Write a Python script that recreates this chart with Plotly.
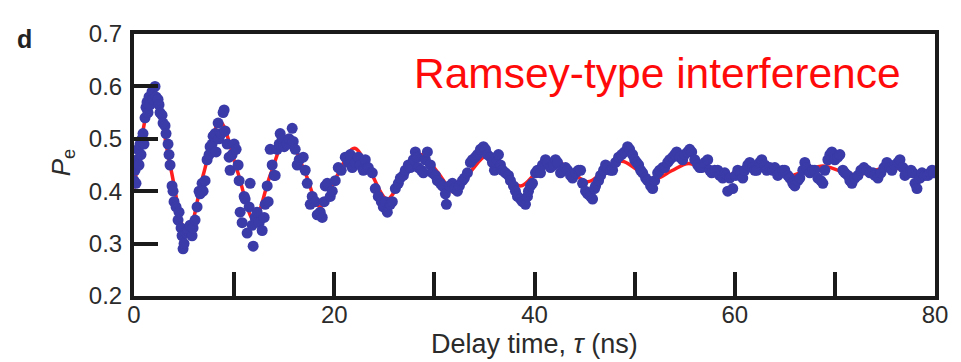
import plotly.graph_objects as go

# Blue data points: delay time (ns), excited-state probability
tau = [0.0, 0.1, 0.2, 0.3, 0.4, 0.5, 0.6, 0.7, 0.8, 0.9, 1.0, 1.1, 1.2, 1.3, 1.4, 1.5, 1.6, 1.8, 1.9, 2.1,
       2.2, 2.4, 2.5, 2.6, 2.8, 2.9, 3.1, 3.2, 3.4, 3.5, 3.6, 3.8, 3.9, 4.0, 4.2, 4.4, 4.5, 4.7, 4.8, 4.9,
       5.0, 5.2, 5.4, 5.6, 5.8, 5.9, 6.1, 6.3, 6.5, 6.6, 6.8, 6.9, 7.1, 7.3, 7.5, 7.6, 7.8, 7.9, 8.1, 8.2,
       8.4, 8.5, 8.7, 8.9, 9.0, 9.1, 9.3, 9.5, 9.6, 9.8, 10.0, 10.2, 10.4, 10.5, 10.6, 10.8, 11.0, 11.1, 11.3, 11.5,
       11.6, 11.8, 11.9, 12.1, 12.3, 12.5, 12.8, 13.0, 13.1, 13.3, 13.4, 13.6, 13.8, 14.0, 14.1, 14.3, 14.5, 14.6, 14.8, 15.0,
       15.3, 15.5, 15.8, 15.9, 16.1, 16.3, 16.5, 16.9, 17.1, 17.3, 17.6, 17.8, 18.1, 18.3, 18.6, 18.8, 19.0, 19.1, 19.3, 19.6,
       19.8, 20.1, 20.4, 20.7, 21.1, 21.4, 21.6, 21.8, 22.1, 22.4, 22.6, 22.9, 23.1, 23.4, 23.8, 24.1, 24.4, 24.7, 24.9, 25.1,
       25.3, 25.6, 25.8, 26.1, 26.4, 26.6, 26.9, 27.1, 27.4, 27.6, 27.9, 28.1, 28.3, 28.4, 28.7, 28.9, 29.1, 29.3, 29.6, 29.8,
       30.1, 30.3, 30.6, 30.8, 31.1, 31.2, 31.5, 31.8, 32.0, 32.3, 32.5, 32.8, 33.0, 33.3, 33.6, 33.8, 34.1, 34.3, 34.6, 34.9,
       35.1, 35.3, 35.6, 35.8, 36.0, 36.2, 36.4, 36.6, 36.8, 37.1, 37.4, 37.6, 37.9, 38.1, 38.3, 38.6, 38.8, 39.1, 39.3, 39.4,
       39.6, 39.8, 40.1, 40.3, 40.6, 40.8, 41.1, 41.3, 41.6, 41.9, 42.1, 42.3, 42.6, 42.8, 43.1, 43.3, 43.6, 43.8, 44.1, 44.4,
       44.6, 44.8, 45.1, 45.3, 45.6, 45.8, 46.0, 46.1, 46.4, 46.6, 46.9, 47.1, 47.3, 47.6, 47.8, 48.1, 48.4, 48.7, 49.0, 49.3,
       49.5, 49.8, 50.0, 50.2, 50.4, 50.6, 50.8, 51.1, 51.3, 51.6, 51.8, 52.0, 52.3, 52.5, 52.8, 53.0, 53.3, 53.5, 53.8, 54.0,
       54.2, 54.5, 54.8, 55.0, 55.3, 55.5, 55.7, 56.0, 56.3, 56.5, 56.7, 57.0, 57.3, 57.5, 57.7, 58.0, 58.3, 58.5, 58.8, 59.0,
       59.3, 59.5, 59.8, 60.1, 60.3, 60.6, 60.8, 61.0, 61.3, 61.5, 61.8, 62.0, 62.2, 62.5, 62.7, 63.0, 63.2, 63.5, 63.8, 64.0,
       64.3, 64.5, 64.8, 65.0, 65.3, 65.5, 65.8, 66.0, 66.3, 66.5, 66.8, 67.0, 67.2, 67.5, 67.8, 68.0, 68.3, 68.6, 68.8, 69.0,
       69.3, 69.5, 69.7, 70.0, 70.3, 70.5, 70.8, 71.0, 71.3, 71.5, 71.7, 72.0, 72.3, 72.6, 72.9, 73.2, 73.5, 73.8, 74.0, 74.3,
       74.6, 74.9, 75.2, 75.5, 75.7, 76.0, 76.3, 76.5, 76.8, 77.0, 77.3, 77.6, 77.8, 78.0, 78.2, 78.5, 78.7, 79.0, 79.3, 79.5,
       79.7, 79.9]
pe = [0.42, 0.44, 0.415, 0.46, 0.48, 0.45, 0.49, 0.47, 0.50, 0.51, 0.49, 0.54, 0.56, 0.57, 0.55, 0.58, 0.565, 0.59, 0.575, 0.60,
      0.58, 0.575, 0.565, 0.55, 0.545, 0.53, 0.525, 0.51, 0.49, 0.47, 0.45, 0.41, 0.40, 0.38, 0.37, 0.345, 0.36, 0.33, 0.315, 0.29,
      0.30, 0.32, 0.325, 0.335, 0.315, 0.33, 0.345, 0.37, 0.40, 0.395, 0.415, 0.40, 0.42, 0.46, 0.47, 0.485, 0.49, 0.505, 0.51, 0.475,
      0.53, 0.50, 0.51, 0.55, 0.555, 0.515, 0.49, 0.465, 0.44, 0.47, 0.49, 0.48, 0.45, 0.42, 0.36, 0.34, 0.39, 0.385, 0.32, 0.37,
      0.415, 0.335, 0.295, 0.35, 0.36, 0.34, 0.325, 0.35, 0.375, 0.41, 0.38, 0.48, 0.45, 0.43, 0.43, 0.48, 0.49, 0.51, 0.50, 0.485,
      0.49, 0.50, 0.52, 0.495, 0.48, 0.45, 0.46, 0.465, 0.44, 0.415, 0.375, 0.39, 0.38, 0.355, 0.36, 0.35, 0.38, 0.41, 0.415, 0.39,
      0.40, 0.42, 0.445, 0.44, 0.465, 0.455, 0.47, 0.445, 0.455, 0.465, 0.45, 0.44, 0.46, 0.445, 0.435, 0.405, 0.39, 0.38, 0.37, 0.38,
      0.36, 0.375, 0.38, 0.405, 0.415, 0.425, 0.43, 0.44, 0.45, 0.445, 0.46, 0.475, 0.465, 0.445, 0.44, 0.435, 0.46, 0.475, 0.45, 0.435,
      0.43, 0.42, 0.415, 0.41, 0.395, 0.375, 0.41, 0.415, 0.405, 0.40, 0.41, 0.42, 0.425, 0.435, 0.455, 0.46, 0.465, 0.47, 0.48, 0.485,
      0.48, 0.47, 0.465, 0.455, 0.44, 0.455, 0.47, 0.45, 0.44, 0.435, 0.43, 0.42, 0.41, 0.40, 0.39, 0.385, 0.38, 0.375, 0.39, 0.40,
      0.41, 0.415, 0.435, 0.44, 0.435, 0.45, 0.46, 0.455, 0.445, 0.45, 0.46, 0.455, 0.435, 0.44, 0.445, 0.44, 0.43, 0.425, 0.435, 0.44,
      0.44, 0.415, 0.40, 0.395, 0.39, 0.385, 0.405, 0.41, 0.42, 0.43, 0.44, 0.45, 0.445, 0.44, 0.44, 0.455, 0.465, 0.47, 0.475, 0.485,
      0.48, 0.47, 0.46, 0.455, 0.45, 0.44, 0.435, 0.425, 0.42, 0.41, 0.405, 0.42, 0.435, 0.44, 0.445, 0.445, 0.455, 0.46, 0.465, 0.47,
      0.475, 0.465, 0.46, 0.47, 0.475, 0.48, 0.475, 0.46, 0.45, 0.445, 0.445, 0.455, 0.46, 0.44, 0.435, 0.44, 0.44, 0.43, 0.425, 0.435,
      0.40, 0.425, 0.405, 0.43, 0.44, 0.435, 0.425, 0.44, 0.45, 0.455, 0.445, 0.44, 0.44, 0.455, 0.46, 0.45, 0.44, 0.445, 0.44, 0.445,
      0.43, 0.435, 0.44, 0.44, 0.43, 0.425, 0.415, 0.41, 0.42, 0.425, 0.44, 0.455, 0.445, 0.435, 0.44, 0.44, 0.425, 0.42, 0.415, 0.44,
      0.46, 0.47, 0.475, 0.46, 0.465, 0.47, 0.44, 0.435, 0.43, 0.42, 0.415, 0.425, 0.43, 0.44, 0.445, 0.44, 0.435, 0.435, 0.43, 0.425,
      0.435, 0.445, 0.455, 0.445, 0.44, 0.45, 0.455, 0.46, 0.445, 0.43, 0.435, 0.44, 0.435, 0.415, 0.405, 0.425, 0.435, 0.43, 0.43, 0.435,
      0.44, 0.435]

# Red fitted curve: extrema and mid-crossings
fit_tau = [0.0, 2.0, 3.6, 5.3, 6.9, 8.6, 10.3, 12.0, 13.6, 15.3, 17.0, 18.6, 20.3, 22.0, 23.6, 25.3, 27.0, 28.6,
           30.3, 32.0, 33.6, 35.3, 37.0, 38.6, 40.3, 42.0, 43.6, 45.3, 47.0, 48.7, 50.4, 52.0, 53.7, 55.4,
           57.1, 58.7, 60.4, 62.1, 63.7, 65.4, 67.1, 68.8, 70.5, 72.1, 73.8, 75.5, 77.2, 78.8, 80.0]
fit_pe = [0.405, 0.59, 0.45, 0.315, 0.43, 0.532, 0.44, 0.345, 0.43, 0.505, 0.44, 0.37, 0.43, 0.482, 0.437, 0.385, 0.435, 0.47,
          0.437, 0.398, 0.437, 0.468, 0.438, 0.41, 0.438, 0.46, 0.439, 0.418, 0.439, 0.457, 0.439, 0.423, 0.439, 0.453,
          0.439, 0.426, 0.439, 0.45, 0.439, 0.429, 0.439, 0.448, 0.439, 0.431, 0.439, 0.446, 0.439, 0.433, 0.437]

x_ticks = [0, 10, 20, 30, 40, 50, 60, 70, 80]
x_ticktext = ["0", "", "20", "", "40", "", "60", "", "80"]
y_ticks = [0.2, 0.3, 0.4, 0.5, 0.6, 0.7]
y_ticktext = ["0.2", "0.3", "0.4", "0.5", "0.6", "0.7"]

FONT = "Liberation Sans, Arial, sans-serif"
TXT = "#2b2b2b"

fig = go.Figure()
fig.add_trace(go.Scatter(x=fit_tau, y=fit_pe, mode="lines",
                         line=dict(color="#ff1e1e", width=3.5, shape="spline", smoothing=1.0),
                         hoverinfo="skip", showlegend=False))
fig.add_trace(go.Scatter(x=tau, y=pe, mode="markers",
                         marker=dict(color="#3a3aa8", size=11, line=dict(width=0)),
                         showlegend=False))

fig.update_xaxes(range=[0, 80], tickvals=x_ticks, ticktext=x_ticktext, ticks="inside",
                 ticklen=24, tickwidth=4, tickcolor="#1a1a1a", showline=True, linewidth=4,
                 linecolor="#1a1a1a", mirror=True, showgrid=False, zeroline=False,
                 tickfont=dict(family=FONT, size=24, color=TXT), ticklabelstandoff=-6)
fig.update_yaxes(range=[0.2, 0.7], tickvals=y_ticks, ticktext=y_ticktext, ticks="inside",
                 ticklen=24, tickwidth=4, tickcolor="#1a1a1a", showline=True, linewidth=4,
                 linecolor="#1a1a1a", mirror=True, showgrid=False, zeroline=False,
                 tickfont=dict(family=FONT, size=24, color=TXT), ticklabelstandoff=3)

fig.add_annotation(text="Ramsey-type interference", xref="paper", yref="paper",
                   x=0.96, y=0.848, xanchor="right", yanchor="middle", showarrow=False,
                   font=dict(family=FONT, size=42.5, color="#ff0a0a"))
fig.add_annotation(text="<b>d</b>", xref="paper", yref="paper", x=-0.137, y=1.042,
                   xanchor="center", yanchor="top", showarrow=False,
                   font=dict(family=FONT, size=25, color="#222222"))
fig.add_annotation(text="<i>P</i><sub>e</sub>", xref="paper", yref="paper", x=-0.09, y=0.51,
                   xanchor="center", yanchor="middle", showarrow=False, textangle=-90,
                   font=dict(family=FONT, size=26, color=TXT))
fig.add_annotation(text="Delay time, <i>τ</i> (ns)", xref="paper", yref="paper", x=0.5, y=-0.185,
                   xanchor="center", yanchor="middle", showarrow=False,
                   font=dict(family=FONT, size=27, color=TXT))

# page body has an 8 px margin, so the figure is sized to the visible area
fig.update_layout(width=953, height=354, margin=dict(l=126, r=26, t=12, b=66),
                  paper_bgcolor="white", plot_bgcolor="white")
fig.write_html("out.html")
